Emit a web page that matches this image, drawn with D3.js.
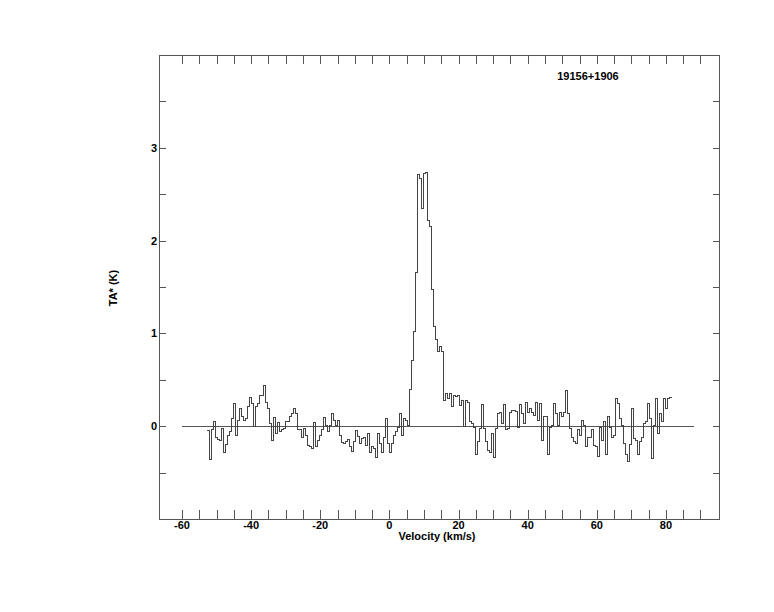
<!DOCTYPE html>
<html>
<head>
<meta charset="utf-8">
<script src="https://cdn.jsdelivr.net/npm/d3@7"></script>
<style>
  html, body { margin: 0; padding: 0; background: #fff; }
  text { font-family: "Liberation Sans", Arial, Helvetica, sans-serif; font-weight: bold; font-size: 11px; fill: #000; }
</style>
</head>
<body>
<svg id="chart" width="774" height="612"></svg>
<script>
// ---- data ----
const title = "19156+1906";
const xLabel = "Velocity (km/s)";
const yLabel = "TA* (K)";
const velocityStart = -52.67;   // km/s, left edge of first channel
const channelWidth = 0.579;     // km/s
const ta = [
  -0.05,-0.36,-0.04,0.05,-0.12,-0.14,-0.15,-0.03,-0.28,-0.20,
  -0.10,-0.06,0.08,0.24,-0.10,0.06,0.19,0.10,0.06,0.08,
  0.21,0.31,0.24,0.00,0.21,0.25,0.33,0.33,0.44,0.26,
  0.19,0.03,-0.15,0.09,-0.08,0.04,-0.06,-0.04,-0.03,0.05,
  0.05,0.10,0.14,0.19,0.14,-0.04,-0.04,
  -0.12,-0.03,-0.10,-0.21,-0.22,-0.24,0.04,-0.22,-0.15,-0.10,
  -0.04,0.09,0.01,-0.06,0.01,0.14,0.06,0.01,0.06,-0.10,
  -0.18,-0.19,-0.17,-0.14,-0.22,-0.27,-0.17,-0.05,-0.11,-0.19,
  -0.13,-0.12,-0.21,-0.08,-0.28,-0.22,-0.24,-0.34,-0.08,-0.19,
  -0.28,-0.12,0.08,-0.19,-0.28,-0.19,-0.10,-0.06,-0.01,0.14,
  -0.10,0.08,0.06,0.01,
  0.40,0.71,1.02,1.66,2.71,2.67,2.35,2.72,2.73,2.22,2.15,1.47,1.07,0.93,0.80,0.86,0.80,
  0.28,0.35,0.30,0.35,0.21,0.33,0.32,0.33,0.22,0.28,0.00,0.28,0.26,0.05,0.03,
  -0.01,-0.30,-0.17,-0.03,0.23,-0.03,-0.17,-0.26,-0.28,-0.08,
  -0.34,-0.03,0.14,0.15,0.03,0.23,-0.04,-0.03,0.15,0.17,
  0.17,0.16,-0.01,0.23,0.14,0.03,0.26,0.15,0.19,0.15,
  0.12,0.26,0.06,0.24,-0.15,0.10,0.10,-0.30,-0.01,0.01,
  0.24,0.14,0.01,0.15,0.10,0.15,0.38,0.14,-0.03,
  -0.12,-0.17,-0.19,-0.04,-0.10,0.06,0.01,-0.22,-0.12,-0.12,
  -0.04,-0.21,-0.22,-0.33,-0.01,-0.15,0.05,-0.30,0.10,-0.01,
  -0.12,-0.10,0.30,0.24,0.08,0.01,-0.19,-0.30,-0.38,-0.20,
  0.19,-0.13,-0.15,-0.31,-0.17,-0.12,0.03,0.05,0.24,0.08,
  -0.35,0.01,0.30,-0.08,0.14,0.05,0.30,0.19,0.30,0.31
];
const xDomain = [-66.66, 95.5];
const yDomain = [-1, 4];
const xTickLabels = [-60, -40, -20, 0, 20, 40, 60, 80];
const yTickLabels = [0, 1, 2, 3];
const xMinorTicks = d3.range(-60, 91, 5);
const yMinorTicks = d3.range(-0.5, 3.51, 0.5);
const baselineRange = [-60, 88];

// ---- layout ----
const L = 159, R = 719.5, T = 55, B = 519;
const svg = d3.select("#chart");
const x = d3.scaleLinear().domain(xDomain).range([L, R]);
const y = d3.scaleLinear().domain(yDomain).range([B, T]);
const stroke = "#555";

// frame
svg.append("rect").attr("x", L).attr("y", T).attr("width", R - L).attr("height", B - T)
  .attr("fill", "none").attr("stroke", stroke).attr("stroke-width", 1).attr("shape-rendering", "crispEdges");

// axes with inward ticks
function mk(axisFn, scale, ticks, len, tr) {
  const g = svg.append("g").attr("transform", tr)
    .call(axisFn(scale).tickValues(ticks).tickSize(len).tickFormat(""));
  g.select(".domain").remove();
  g.selectAll("line").attr("stroke", stroke).attr("shape-rendering", "crispEdges");
  return g;
}
mk(d3.axisTop, x, xMinorTicks, 9, `translate(0,${B})`);
mk(d3.axisBottom, x, xMinorTicks, 9, `translate(0,${T})`);
mk(d3.axisRight, y, yMinorTicks, 7, `translate(${L},0)`);
mk(d3.axisLeft, y, yMinorTicks, 7, `translate(${R},0)`);

// tick labels
svg.append("g").selectAll("text").data(xTickLabels).join("text")
  .attr("x", d => x(d)).attr("y", B + 9.5).attr("text-anchor", "middle").text(d => d);
svg.append("g").selectAll("text").data(yTickLabels).join("text")
  .attr("x", L - 2).attr("y", d => y(d) + 4).attr("text-anchor", "end").text(d => d);

// axis titles
svg.append("text").attr("x", 437).attr("y", 540).attr("text-anchor", "middle").text(xLabel);
svg.append("text").attr("transform", "translate(117,288) rotate(-90)").attr("text-anchor", "middle").text(yLabel);
svg.append("text").attr("x", 588).attr("y", 80).attr("text-anchor", "middle").text(title);

// zero baseline
svg.append("line").attr("x1", x(baselineRange[0])).attr("x2", x(baselineRange[1]))
  .attr("y1", y(0)).attr("y2", y(0)).attr("stroke", stroke).attr("shape-rendering", "crispEdges");

// spectrum as histogram steps
const pts = ta.map((v, i) => [velocityStart + i * channelWidth, v]);
pts.push([velocityStart + ta.length * channelWidth, ta[ta.length - 1]]);
const line = d3.line().x(d => x(d[0])).y(d => y(d[1])).curve(d3.curveStepAfter);
svg.append("path").datum(pts).attr("d", line).attr("fill", "none")
  .attr("stroke", "#444").attr("stroke-width", 1).attr("shape-rendering", "crispEdges");
</script>
</body>
</html>
